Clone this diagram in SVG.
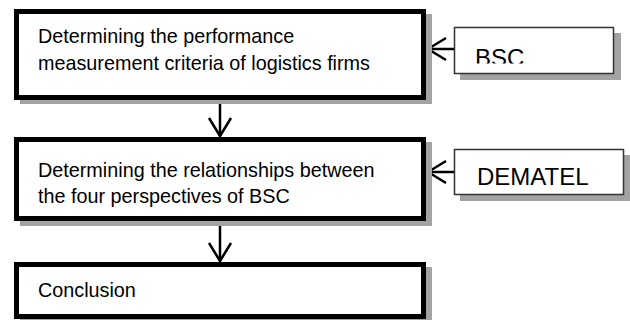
<svg xmlns="http://www.w3.org/2000/svg" width="630" height="320" viewBox="0 0 630 320">
<style>
.main{fill:#fff;stroke:#000;stroke-width:5}
.shadow{fill:#a3a3a3}
.side{fill:#fff;stroke:#333;stroke-width:1.5}
.t{font-family:"Liberation Sans",Arial,sans-serif;font-size:19.8px;fill:#000}
.big{font-family:"Liberation Sans",Arial,sans-serif;font-size:24px;fill:#000}
.conn{stroke:#000;stroke-width:2.5;fill:none}
</style>
<defs>
<marker id="arr" markerUnits="userSpaceOnUse" markerWidth="26" markerHeight="28" refX="21" refY="13" orient="auto">
<path d="M3,2 L21,13 L3,24" fill="none" stroke="#000" stroke-width="2.5"/>
</marker>
<clipPath id="bscclip"><rect x="455" y="28" width="157" height="35.5"/></clipPath>
</defs>
<g id="connectors">
<line class="conn" x1="220" y1="100" x2="220" y2="136" marker-end="url(#arr)"/>
<line class="conn" x1="220" y1="221" x2="220" y2="261" marker-end="url(#arr)"/>
<line class="conn" x1="454" y1="49" x2="428" y2="49" marker-end="url(#arr)"/>
<line class="conn" x1="454" y1="172" x2="428" y2="172" marker-end="url(#arr)"/>
</g>
<g id="step1">
<rect class="shadow" x="20" y="14" width="412" height="90"/>
<rect class="main" x="16.5" y="11.5" width="407" height="86"/>
<text class="t" x="38" y="43">Determining the performance</text>
<text class="t" x="38" y="70">measurement criteria of logistics firms</text>
</g>
<g id="step2">
<rect class="shadow" x="20" y="142" width="412" height="84"/>
<rect class="main" x="16.5" y="139.5" width="407" height="79"/>
<text class="t" x="38" y="177">Determining the relationships between</text>
<text class="t" x="38" y="203">the four perspectives of BSC</text>
</g>
<g id="step3">
<rect class="shadow" x="20" y="267" width="412" height="56"/>
<rect class="main" x="16.5" y="264.5" width="407" height="52"/>
<text class="t" x="38" y="297">Conclusion</text>
</g>
<g id="bsc">
<rect class="shadow" x="460" y="33" width="161" height="47"/>
<rect class="side" x="454.5" y="27.5" width="159" height="46"/>
<text class="big" x="475" y="66" clip-path="url(#bscclip)">BSC</text>
</g>
<g id="dematel">
<rect class="shadow" x="460" y="155" width="170" height="46"/>
<rect class="side" x="454.5" y="149.5" width="169" height="45"/>
<text class="big" x="477" y="185">DEMATEL</text>
</g>
</svg>
